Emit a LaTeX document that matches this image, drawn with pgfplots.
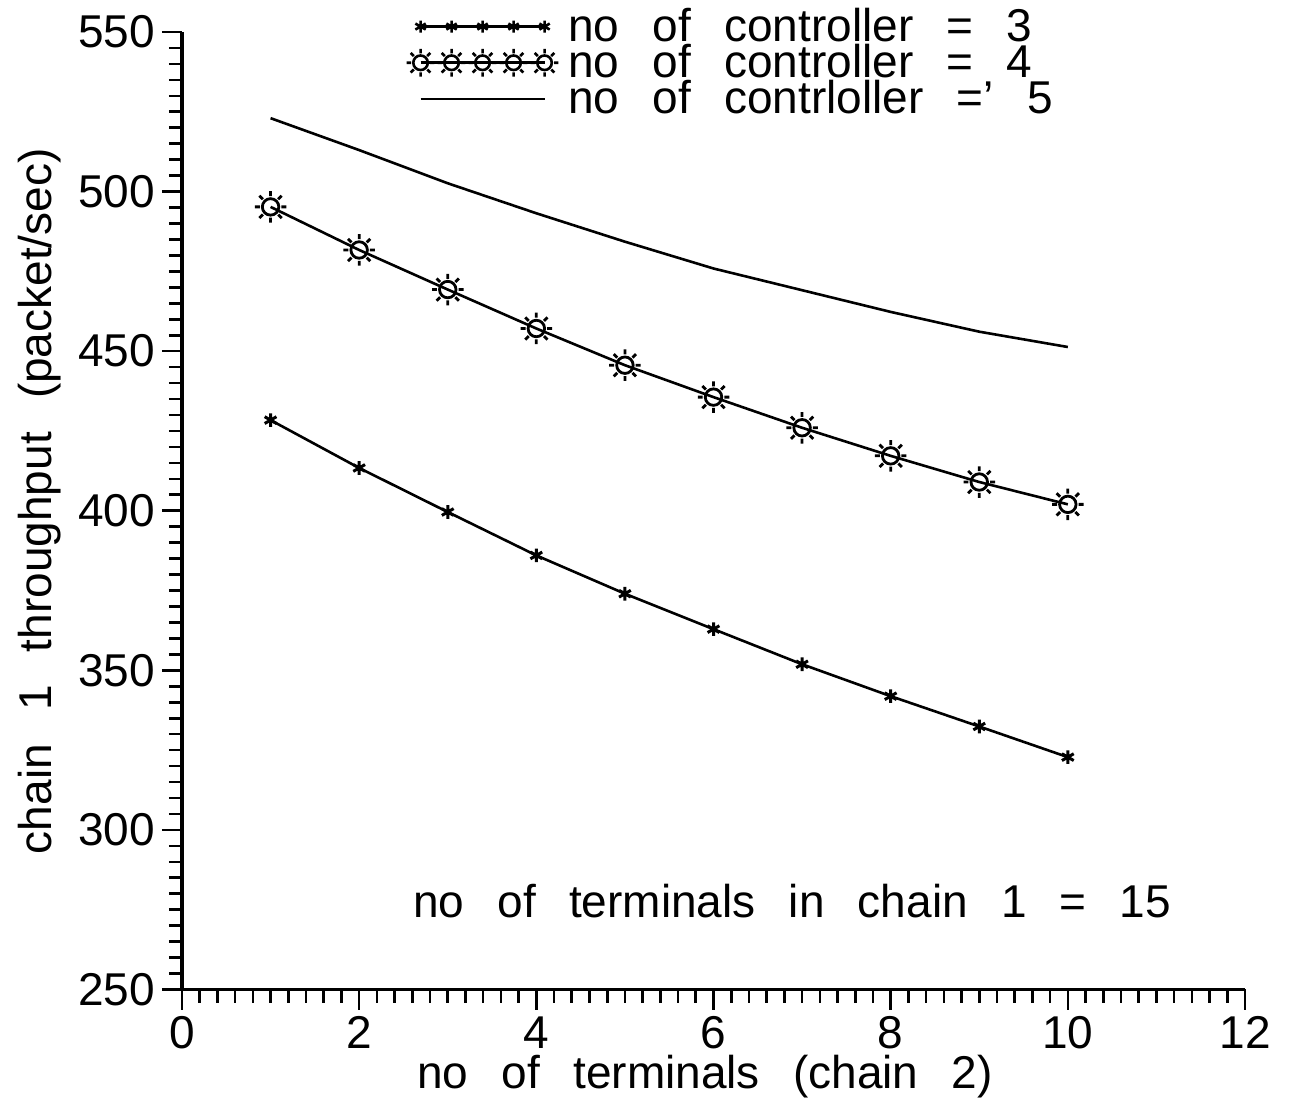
\documentclass[border=0pt]{standalone}
\usepackage{fontspec}
\setmainfont[WordSpace=2.6]{Liberation Sans}
\usepackage{pgfplots}
\pgfplotsset{compat=1.18}
\usetikzlibrary{plotmarks}

\newcommand\chartfont{\fontsize{23}{27}\selectfont}

% circle with short rays, used for the four-controller series
\pgfdeclareplotmark{sun}{%
  \pgfpathcircle{\pgfpoint{0pt}{0pt}}{0.55\pgfplotmarksize}%
  \pgfusepathqstroke
  \foreach \a in {0,45,...,315}{%
    \pgfpathmoveto{\pgfpointpolar{\a}{0.72\pgfplotmarksize}}%
    \pgfpathlineto{\pgfpointpolar{\a}{1.05\pgfplotmarksize}}%
  }%
  \pgfusepathqstroke
}

\begin{document}
\begin{tikzpicture}
\begin{axis}[
  name=ax,
  scale only axis,
  width=531.5pt, height=478.75pt,
  xmin=0, xmax=12, ymin=250, ymax=550,
  axis x line*=bottom, axis y line*=left,
  axis line style={line width=1.6pt},
  xtick={0,2,...,12}, ytick={250,300,...,550},
  minor x tick num=9, minor y tick num=9,
  tick align=outside,
  major tick length=10pt, minor tick length=6.5pt,
  every tick/.style={black, line width=1.3pt},
  /pgf/number format/assume math mode=true,
  ticklabel style={font=\chartfont},
  label style={font=\chartfont},
  xlabel={no of terminals (chain 2)},
  ylabel={chain 1 throughput (packet/sec)},
  xlabel style={at={(axis description cs:0.492,-0.091)}, anchor=center},
  ylabel style={at={(axis description cs:-0.1336,0.51)}, anchor=center},
  legend cell align=left,
  legend style={
    at={(rel axis cs:0.211,1.025)}, anchor=north west,
    draw=none, fill=none, inner sep=0pt,
    font=\chartfont,
    column sep=5pt, row sep=0pt,
    nodes={inner sep=0pt, text height=16.5pt, text depth=1.6pt},
  },
  legend image code/.code={%
    \draw[#1, mark options={scale=0.88}] plot coordinates
      {(0pt,0pt) (15.5pt,0pt) (31pt,0pt) (46.5pt,0pt) (62pt,0pt)};
  },
]

\addplot[black, line width=1.3pt, mark=asterisk, mark size=3.4pt,
  mark options={line width=1.5pt}]
  coordinates {
  (1,428.4) (2,413.4) (3,399.6) (4,386.0) (5,374.0)
  (6,362.9) (7,351.9) (8,341.9) (9,332.4) (10,322.8)
};
\addlegendentry{no of controller = 3}

\addplot[black, line width=1.3pt, mark=sun, mark size=7.5pt,
  mark options={line width=1.4pt}]
  coordinates {
  (1,495.2) (2,481.7) (3,469.3) (4,457.1) (5,445.6)
  (6,435.6) (7,426.0) (8,417.2) (9,409.0) (10,402.0)
};
\addlegendentry{no of controller = 4}

\addplot[black, line width=1.3pt, no marks]
  coordinates {
  (1,523.0) (2,513.0) (3,502.6) (4,493.2) (5,484.3)
  (6,475.9) (7,469.1) (8,462.3) (9,456.1) (10,451.3)
};
\addlegendentry{no of contrloller =' 5}

\node[font=\chartfont, anchor=base] at (rel axis cs:0.574,0.0747)
  {no of terminals in chain 1 = 15};
\end{axis}
\path (ax.south west) ++(-91pt,-51.75pt) rectangle ++(645pt,546.5pt);
\end{tikzpicture}
\end{document}
